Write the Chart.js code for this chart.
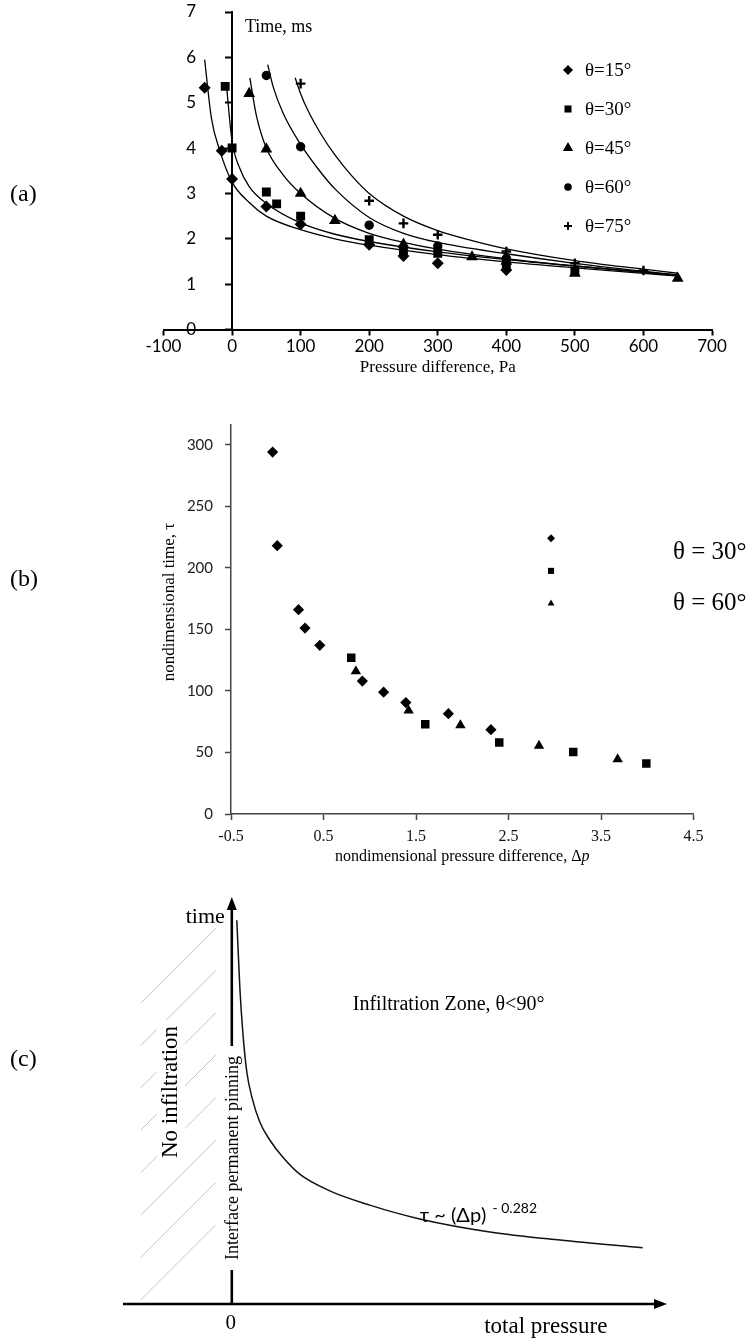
<!DOCTYPE html>
<html>
<head>
<meta charset="utf-8">
<script src="https://cdn.jsdelivr.net/npm/chart.js@4/dist/chart.umd.min.js"></script>
<style>
  body { margin: 0; background: #fff; width: 754px; height: 1340px; position: relative; overflow: hidden; }
  canvas { position: absolute; left: 0; }
  #chartA { top: 0; }
  #chartB { top: 380px; }
  #chartC { top: 866px; }
</style>
</head>
<body>
<canvas id="chartA" width="754" height="380"></canvas>
<canvas id="chartB" width="754" height="486"></canvas>
<canvas id="chartC" width="754" height="474"></canvas>
<script>
// ---------- panel (a): time vs pressure difference ----------
const xTicksA = [-100, 0, 100, 200, 300, 400, 500, 600, 700];
const yTicksA = [0, 1, 2, 3, 4, 5, 6, 7];
const labelsA = ["θ=15°", "θ=30°", "θ=45°", "θ=60°", "θ=75°"];

const theta15 = [[-40, 5.33], [-15, 3.94], [0, 3.32], [50, 2.71], [100, 2.32], [200, 1.87], [250, 1.62], [300, 1.46], [400, 1.31]];
const theta30 = [[-10, 5.36], [0, 4.0], [50, 3.03], [65, 2.77], [100, 2.5], [200, 1.98], [250, 1.76], [300, 1.68], [400, 1.45], [500, 1.28]];
const theta45 = [[25, 5.2], [50, 3.98], [100, 3.0], [150, 2.4], [250, 1.88], [350, 1.6], [400, 1.5], [500, 1.24], [650, 1.13]];
const theta60 = [[50, 5.6], [100, 4.03], [200, 2.3], [300, 1.84], [400, 1.57]];
const theta75 = [[100, 5.42], [200, 2.84], [250, 2.34], [300, 2.09], [400, 1.72], [500, 1.46], [600, 1.3]];

// trend curves
const fit15 = [[-40, 5.95], [-30, 4.65], [-18, 3.95], [0, 3.25], [25, 2.8], [50, 2.5], [100, 2.2], [150, 2.0], [200, 1.86], [300, 1.65], [400, 1.49], [500, 1.36], [650, 1.18]];
const fit30 = [[-8, 5.35], [0, 4.15], [10, 3.6], [25, 3.15], [50, 2.78], [100, 2.35], [150, 2.1], [200, 1.94], [300, 1.71], [400, 1.54], [500, 1.4], [650, 1.19]];
const fit45 = [[26, 5.55], [35, 4.75], [50, 4.0], [75, 3.4], [100, 3.0], [150, 2.45], [200, 2.12], [250, 1.92], [300, 1.77], [400, 1.56], [500, 1.4], [650, 1.2]];
const fit60 = [[52, 5.84], [60, 5.35], [75, 4.75], [100, 4.08], [125, 3.55], [150, 3.1], [200, 2.47], [250, 2.12], [300, 1.92], [400, 1.67], [500, 1.46], [650, 1.2]];
const fit75 = [[92, 5.55], [100, 5.2], [110, 4.85], [130, 4.3], [150, 3.85], [175, 3.38], [200, 3.0], [250, 2.5], [300, 2.18], [350, 1.96], [400, 1.78], [500, 1.52], [600, 1.33], [650, 1.24]];

// ---------- panel (b): nondimensional ----------
const xTicksB = [-0.5, 0.5, 1.5, 2.5, 3.5, 4.5];
const yTicksB = [0, 50, 100, 150, 200, 250, 300];
const diamondsB = [[-0.05, 294], [0.0, 218], [0.23, 166], [0.3, 151], [0.46, 137], [0.92, 108], [1.15, 99], [1.39, 90.5], [1.85, 81.5], [2.31, 68.5]];
const squaresB = [[0.8, 127], [1.6, 73], [2.4, 58], [3.2, 50.3], [3.99, 41]];
const trianglesB = [[0.85, 116], [1.42, 84], [1.98, 72], [2.83, 55.5], [3.68, 44.5]];
const keyLabelsB = ["θ = 30°", "θ = 60°"];

// ---------- panel (c): schematic ----------
const curveC = [[1.15, 94.3], [1.84, 77.9], [2.53, 66.8], [3.45, 57.0], [4.6, 50.9], [6.43, 44.7], [8.73, 40.3], [11.7, 36.1], [15.6, 31.9], [22.5, 27.8], [31.7, 24.3], [43.2, 20.9], [59.3, 17.7], [75.4, 15.7], [94.4, 13.8]];

const SERIF = "'Liberation Serif', 'Times New Roman', serif";
const SANS = "Lato, 'Open Sans', 'Liberation Sans', sans-serif";

Chart.defaults.font.family = SANS;
Chart.defaults.color = "#000";
Chart.defaults.animation = false;

const pts = arr => arr.map(([x, y]) => ({ x, y }));
const fixTicks = list => scale => { scale.ticks = list.map(v => ({ value: v })); };

function marker(ctx, style, r, x, y, lw) {
  ctx.fillStyle = "#000";
  ctx.strokeStyle = "#000";
  ctx.lineWidth = lw || 1;
  Chart.helpers.drawPoint(ctx, { pointStyle: style, radius: r, rotation: 0, borderWidth: lw || 0 }, x, y);
}

function rotText(ctx, str, x, y) {
  ctx.save();
  ctx.translate(x, y);
  ctx.rotate(-Math.PI / 2);
  ctx.textAlign = "center";
  ctx.textBaseline = "middle";
  ctx.fillText(str, 0, 0);
  ctx.restore();
}

// ---------------- chart (a) ----------------
const stylesA = ["rectRot", "rect", "triangle", "circle", "cross"];
const sizesA = [6, 6.3, 6.8, 4.7, 4.8];
const keySizesA = [5, 5, 6, 3.8, 4];
const seriesA = [theta15, theta30, theta45, theta60, theta75];
const fitsA = [fit15, fit30, fit45, fit60, fit75];

const decorA = {
  id: "decorA",
  afterDraw(chart) {
    const { ctx, scales: { y } } = chart;
    ctx.save();
    ctx.fillStyle = "#000";
    ctx.textBaseline = "middle";
    // y tick labels sit well left of the axis that crosses at x = 0
    ctx.font = "17px " + SANS;
    ctx.textAlign = "right";
    yTicksA.forEach(v => ctx.fillText(String(v), 196, y.getPixelForValue(v)));
    ctx.textAlign = "left";
    ctx.font = "18px " + SERIF;
    ctx.fillText("Time, ms", 245, 27);
    ctx.font = "24px " + SERIF;
    ctx.fillText("(a)", 10, 195);
    ctx.font = "19px " + SERIF;
    labelsA.forEach((lab, i) => {
      const ky = 70 + i * 39;
      marker(ctx, stylesA[i], keySizesA[i], 568, ky, i === 4 ? 2 : 0);
      ctx.fillStyle = "#000";
      ctx.fillText(lab, 585, ky + 1);
    });
    ctx.restore();
  }
};

new Chart(document.getElementById("chartA"), {
  type: "scatter",
  data: {
    datasets: [
      ...fitsA.map(f => ({
        data: pts(f), showLine: true, pointRadius: 0, borderColor: "#000",
        borderWidth: 1.3, cubicInterpolationMode: "monotone"
      })),
      ...seriesA.map((s, i) => ({
        label: labelsA[i], data: pts(s), showLine: false,
        pointStyle: stylesA[i], pointRadius: sizesA[i],
        backgroundColor: "#000", borderColor: "#000", borderWidth: i === 4 ? 2.4 : 0
      }))
    ]
  },
  options: {
    responsive: false,
    layout: { padding: { left: 163.5, right: 42, top: 12, bottom: 0 } },
    plugins: { legend: { display: false }, tooltip: { enabled: false } },
    scales: {
      x: {
        type: "linear", min: -100, max: 700,
        afterBuildTicks: fixTicks(xTicksA),
        afterFit: s => { s.height = 50.5; },
        grid: { drawOnChartArea: false, tickLength: 6, tickColor: "#000", tickWidth: 2 },
        border: { color: "#000", width: 2 },
        ticks: { padding: 1, font: { size: 17 }, color: "#000" },
        title: { display: true, text: "Pressure difference, Pa", font: { family: SERIF, size: 17 }, color: "#000", padding: { top: 0, bottom: 1.8 } }
      },
      y: {
        type: "linear", min: 0, max: 7, position: { x: 0 },
        afterBuildTicks: fixTicks(yTicksA),
        grid: { drawOnChartArea: false, tickLength: 6, tickColor: "#000", tickWidth: 2 },
        border: { color: "#000", width: 2 },
        ticks: { display: false }
      }
    }
  },
  plugins: [decorA]
});

// ---------------- chart (b) ----------------
const stylesB = ["rectRot", "rect", "triangle"];
const sizesB = [5.6, 6, 6];
const keySizesB = [4, 4.3, 4];
const keyPosB = [[2.96, 224], [2.96, 197.5], [2.96, 171]];

const decorB = {
  id: "decorB",
  afterDraw(chart) {
    const { ctx, scales: { x, y } } = chart;
    ctx.save();
    ctx.fillStyle = "#000";
    ctx.textBaseline = "middle";
    // x title, with italic p
    const main = "nondimensional pressure difference, Δ";
    ctx.font = "16px " + SERIF;
    const w1 = ctx.measureText(main).width;
    ctx.font = "italic 16px " + SERIF;
    const w2 = ctx.measureText("p").width;
    const cx = (x.left + x.right) / 2;
    const sx = cx - (w1 + w2) / 2;
    ctx.font = "16px " + SERIF;
    ctx.fillText(main, sx, 477);
    ctx.font = "italic 16px " + SERIF;
    ctx.fillText("p", sx + w1, 477);
    // y title
    ctx.font = "17px " + SERIF;
    rotText(ctx, "nondimensional time, τ", 170, 222);
    // key markers
    keyPosB.forEach(([kx, ky], i) => {
      marker(ctx, stylesB[i], keySizesB[i], x.getPixelForValue(kx), y.getPixelForValue(ky), 0);
    });
    ctx.fillStyle = "#000";
    ctx.font = "25px " + SERIF;
    ctx.fillText(keyLabelsB[0], 673, 172);
    ctx.fillText(keyLabelsB[1], 673, 223);
    ctx.font = "24px " + SERIF;
    ctx.fillText("(b)", 10, 200);
    ctx.restore();
  }
};

new Chart(document.getElementById("chartB"), {
  type: "scatter",
  data: {
    datasets: [diamondsB, squaresB, trianglesB].map((s, i) => ({
      data: pts(s), pointStyle: stylesB[i], pointRadius: sizesB[i],
      backgroundColor: "#000", borderWidth: 0
    }))
  },
  options: {
    responsive: false,
    layout: { padding: { left: 161, right: 60.5, top: 45, bottom: 0 } },
    plugins: { legend: { display: false }, tooltip: { enabled: false } },
    scales: {
      x: {
        type: "linear", min: -0.5, max: 4.5,
        afterBuildTicks: fixTicks(xTicksB),
        afterFit: s => { s.height = 52; },
        grid: { drawOnChartArea: false, tickLength: 6, tickColor: "#444", tickWidth: 1.5 },
        border: { color: "#444", width: 1.5 },
        ticks: { padding: 7, font: { family: SERIF, size: 16 }, color: "#111" }
      },
      y: {
        type: "linear", min: 0, max: 316,
        afterBuildTicks: fixTicks(yTicksB),
        afterFit: s => { s.width = 70; },
        grid: { drawOnChartArea: false, tickLength: 6, tickColor: "#444", tickWidth: 1.5 },
        border: { color: "#444", width: 1.5 },
        ticks: { padding: 12, font: { size: 15 }, color: "#222" }
      }
    }
  },
  plugins: [decorB]
});

// ---------------- chart (c) ----------------
function arrowHead(ctx, x, y, dir) {
  ctx.beginPath();
  if (dir === "up") {
    ctx.moveTo(x, y); ctx.lineTo(x - 5, y + 13); ctx.lineTo(x + 5, y + 13);
  } else {
    ctx.moveTo(x, y); ctx.lineTo(x - 13, y - 5); ctx.lineTo(x - 13, y + 5);
  }
  ctx.closePath();
  ctx.fill();
}

const decorC = {
  id: "decorC",
  beforeDatasetsDraw(chart) {
    const { ctx, scales: { x, y } } = chart;
    const ox = x.getPixelForValue(0), oy = y.getPixelForValue(0);
    const top = y.getPixelForValue(100), right = x.getPixelForValue(100), left = x.getPixelForValue(-25);
    ctx.save();
    // hatching of the no-infiltration zone
    ctx.strokeStyle = "#c4c4c4";
    ctx.lineWidth = 1;
    for (let k = 0; k < 8; k++) {
      const ly = oy - 301 + k * 42.4;
      ctx.beginPath();
      ctx.moveTo(ox - 91, ly);
      ctx.lineTo(ox - 16, ly - 75);
      ctx.stroke();
    }
    ctx.font = "23px " + SERIF;
    const wNo = ctx.measureText("No infiltration").width;
    ctx.fillStyle = "#fff";
    ctx.fillRect(ox - 61 - 14, oy - 212 - wNo / 2 - 6, 28, wNo + 12);
    ctx.fillStyle = "#000";
    rotText(ctx, "No infiltration", ox - 61, oy - 212);

    // axes
    ctx.strokeStyle = "#000";
    ctx.fillStyle = "#000";
    ctx.lineWidth = 2.6;
    ctx.beginPath();
    ctx.moveTo(left, oy); ctx.lineTo(right - 8, oy);
    ctx.stroke();
    arrowHead(ctx, right, oy, "right");

    ctx.font = "18px " + SERIF;
    const wPin = ctx.measureText("Interface permanent pinning").width;
    const pinY = oy - 146;
    ctx.beginPath();
    ctx.moveTo(ox, oy); ctx.lineTo(ox, pinY + wPin / 2 + 10);
    ctx.moveTo(ox, pinY - wPin / 2 - 10); ctx.lineTo(ox, top + 8);
    ctx.stroke();
    arrowHead(ctx, ox, top, "up");
    rotText(ctx, "Interface permanent pinning", ox + 1, pinY);

    // labels
    ctx.textBaseline = "middle";
    ctx.font = "22px " + SERIF;
    ctx.textAlign = "right";
    ctx.fillText("time", ox - 7, top + 20);
    ctx.textAlign = "center";
    ctx.font = "21px " + SERIF;
    ctx.fillText("0", ox - 1, oy + 19);
    ctx.font = "23px " + SERIF;
    ctx.fillText("total pressure", ox + 314, oy + 23);
    ctx.textAlign = "left";
    ctx.font = "20px " + SERIF;
    ctx.fillText("Infiltration Zone, θ<90°", ox + 121, oy - 299);
    ctx.font = "20px " + SANS;
    const base = "τ ~ (Δp)";
    ctx.fillText(base, ox + 188, oy - 88);
    const wb = ctx.measureText(base).width;
    ctx.font = "14px " + SANS;
    ctx.fillText("- 0.282", ox + 188 + wb + 6, oy - 96);
    ctx.font = "24px " + SERIF;
    ctx.fillText("(c)", 10, 194);
    ctx.restore();
  }
};

new Chart(document.getElementById("chartC"), {
  type: "scatter",
  data: {
    datasets: [{
      data: pts(curveC), showLine: true, pointRadius: 0, borderColor: "#111",
      borderWidth: 1.5, cubicInterpolationMode: "monotone"
    }]
  },
  options: {
    responsive: false,
    layout: { padding: { left: 123, right: 87, top: 31, bottom: 36 } },
    plugins: { legend: { display: false }, tooltip: { enabled: false } },
    scales: {
      x: { type: "linear", min: -25, max: 100, display: false },
      y: { type: "linear", min: 0, max: 100, display: false }
    }
  },
  plugins: [decorC]
});
</script>
</body>
</html>
